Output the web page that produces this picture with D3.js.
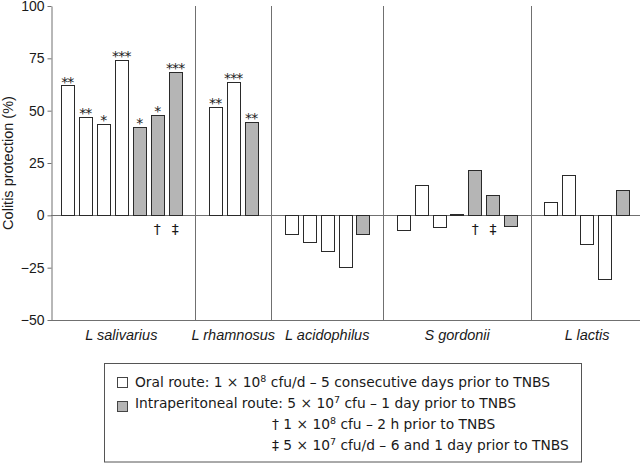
<!DOCTYPE html>
<html>
<head>
<meta charset="utf-8">
<script src="https://cdn.jsdelivr.net/npm/d3@7"></script>
<style>
  html, body { margin: 0; padding: 0; background: #fff; }
  svg { display: block; }
</style>
</head>
<body>
<svg id="chart" width="640" height="463" style="opacity:0.999"></svg>
<script>
// ---------------- data ----------------
const categories = ["L salivarius", "L rhamnosus", "L acidophilus", "S gordonii", "L lactis"];
const oralValues = [[62.2, 47, 43.8, 74.3], [51.9, 63.7], [-8.9, -12.5, -16.8, -24.8], [-6.8, 14.4, -5.7, 0.8], [6.5, 19.5, -13.8, -30.5]];
const ipValues = [[42.2, 48, 68.6], [44.6], [-8.7], [21.7, 9.5, -4.9], [11.9]];
const oralSig = [["**", "**", "*", "***"], ["**", "***"], ["", "", "", ""], ["", "", "", ""], ["", "", "", ""]];
const ipSig = [["*", "*", "***"], ["**"], [""], ["", "", ""], [""]];
const ipProtocol = [["", "†", "‡"], [""], [""], ["†", "‡", ""], [""]];
const yTicks = [-50, -25, 0, 25, 50, 75, 100];
const yTitle = "Colitis protection (%)";

// ---------------- layout ----------------
const svg = d3.select("#chart");
const plotLeft = 51, plotRight = 640, plotTop = 6, plotBottom = 320;
const barW = 0.743, groupPad = 0.743; // in bar-step units
const ink = "#1a1a1a";
const dv = "DejaVu Sans, sans-serif";
const lib = "Liberation Sans, Arial, sans-serif";

const y = d3.scaleLinear().domain([-50, 100]).range([plotBottom, plotTop]);

// build bar list with unit positions
const bars = [];
const groups = [];
let cursor = 0;
categories.forEach((cat, g) => {
  const items = [];
  oralValues[g].forEach((v, i) => items.push({ v, type: "oral", sig: oralSig[g][i] || "", mark: "" }));
  ipValues[g].forEach((v, i) => items.push({ v, type: "ip", sig: ipSig[g][i] || "", mark: ipProtocol[g][i] || "" }));
  const start = cursor;
  items.forEach((d, j) => { d.u = start + j; d.g = g; bars.push(d); });
  const end = start + items.length - 1 + barW;
  groups.push({ cat, start, end });
  cursor = end + 2 * groupPad;
});
const totalUnits = groups[groups.length - 1].end;
const x = d3.scaleLinear().domain([0, totalUnits]).range([60.7, 629.7]);

const axisColor = "#707070";
const y0px = Math.round(y(0)) + 0.5;

// zero line and bottom line
svg.append("line").attr("x1", plotLeft).attr("x2", plotRight)
  .attr("y1", y0px).attr("y2", y0px).attr("stroke", axisColor).attr("stroke-width", 1);
svg.append("line").attr("x1", plotLeft).attr("x2", plotRight)
  .attr("y1", y(-50) + 0.5).attr("y2", y(-50) + 0.5).attr("stroke", axisColor).attr("stroke-width", 1);

// dividers
groups.slice(0, -1).forEach((gr, i) => {
  const xm = Math.round((x(gr.end) + x(groups[i + 1].start)) / 2) + 0.5;
  svg.append("line").attr("x1", xm).attr("x2", xm).attr("y1", y(100)).attr("y2", y(-50))
    .attr("stroke", axisColor).attr("stroke-width", 1);
});

// y axis
const yAxis = d3.axisLeft(y).tickValues(yTicks).tickSize(4).tickSizeOuter(0).tickPadding(3)
  .tickFormat(d => d < 0 ? "\u2212" + Math.abs(d) : String(d));
const ga = svg.append("g").attr("transform", `translate(${plotLeft + 0.5},0)`).call(yAxis);
ga.attr("font-family", lib).attr("font-size", 14);
ga.select(".domain").attr("stroke", axisColor);
ga.selectAll(".tick line").attr("stroke", axisColor);
ga.selectAll(".tick text").attr("fill", ink);

// y title
svg.append("text").attr("transform", `translate(13,${(y(100) + y(-50)) / 2}) rotate(-90)`)
  .attr("text-anchor", "middle").attr("font-size", 14.5).attr("font-family", lib)
  .attr("fill", ink).text(yTitle);

// bars
svg.append("g").selectAll("rect").data(bars).join("rect")
  .attr("x", d => Math.round(x(d.u)) + 0.5)
  .attr("width", d => Math.round(x(d.u + barW) - x(d.u)))
  .attr("y", d => d.v >= 0 ? Math.round(y(d.v)) + 0.5 : y0px)
  .attr("height", d => Math.max(1, Math.abs(Math.round(y(d.v)) + 0.5 - y0px)))
  .attr("fill", d => d.type === "oral" ? "#ffffff" : "#b5b5b5")
  .attr("stroke", "#2a2a2a").attr("stroke-width", 1);

// significance asterisks
svg.append("g").selectAll("text").data(bars.filter(d => d.sig)).join("text")
  .attr("x", d => x(d.u + barW / 2))
  .attr("y", d => y(d.v) + 1.5)
  .attr("text-anchor", "middle").attr("font-size", 14).attr("font-family", dv)
  .attr("fill", ink).attr("letter-spacing", -0.8)
  .text(d => d.sig);

// protocol marks
svg.append("g").selectAll("text").data(bars.filter(d => d.mark)).join("text")
  .attr("x", d => x(d.u + barW / 2))
  .attr("y", y(0) + 18.5)
  .attr("text-anchor", "middle").attr("font-size", 14).attr("font-family", dv)
  .attr("fill", ink)
  .text(d => d.mark);

// category labels
svg.append("g").selectAll("text").data(groups).join("text")
  .attr("x", d => (x(d.start) + x(d.end)) / 2)
  .attr("y", 340)
  .attr("text-anchor", "middle").attr("font-size", 14.5).attr("font-style", "italic")
  .attr("font-family", lib).attr("fill", ink)
  .text(d => d.cat);

// legend
const lg = svg.append("g");
lg.append("rect").attr("x", 104.5).attr("y", 363.5).attr("width", 477).attr("height", 98.5)
  .attr("fill", "#fff").attr("stroke", "#555").attr("stroke-width", 1);
lg.append("rect").attr("x", 117.5).attr("y", 377.5).attr("width", 10).attr("height", 10)
  .attr("fill", "#fff").attr("stroke", "#444");
lg.append("rect").attr("x", 117.5).attr("y", 401.5).attr("width", 10).attr("height", 10)
  .attr("fill", "#b5b5b5").attr("stroke", "#444");

function legendLine(xp, yp, parts) {
  const t = lg.append("text").attr("x", xp).attr("y", yp).attr("font-size", 13.8)
    .attr("font-family", dv).attr("fill", ink);
  parts.forEach(p => {
    if (p.sup) {
      t.append("tspan").attr("dy", -5).attr("font-size", 9.5).text(p.sup);
      t.append("tspan").attr("dy", 5).text(p.after);
    } else {
      t.append("tspan").text(p.text);
    }
  });
}
legendLine(135, 387, [{ text: "Oral route: 1 \u00d7 10" }, { sup: "8", after: " cfu/d \u2013 5 consecutive days prior to TNBS" }]);
legendLine(135, 408, [{ text: "Intraperitoneal route: 5 \u00d7 10" }, { sup: "7", after: " cfu \u2013 1 day prior to TNBS" }]);
legendLine(272, 429, [{ text: "\u2020 1 \u00d7 10" }, { sup: "8", after: " cfu \u2013 2 h prior to TNBS" }]);
legendLine(272, 450, [{ text: "\u2021 5 \u00d7 10" }, { sup: "7", after: " cfu/d \u2013 6 and 1 day prior to TNBS" }]);
</script>
</body>
</html>
